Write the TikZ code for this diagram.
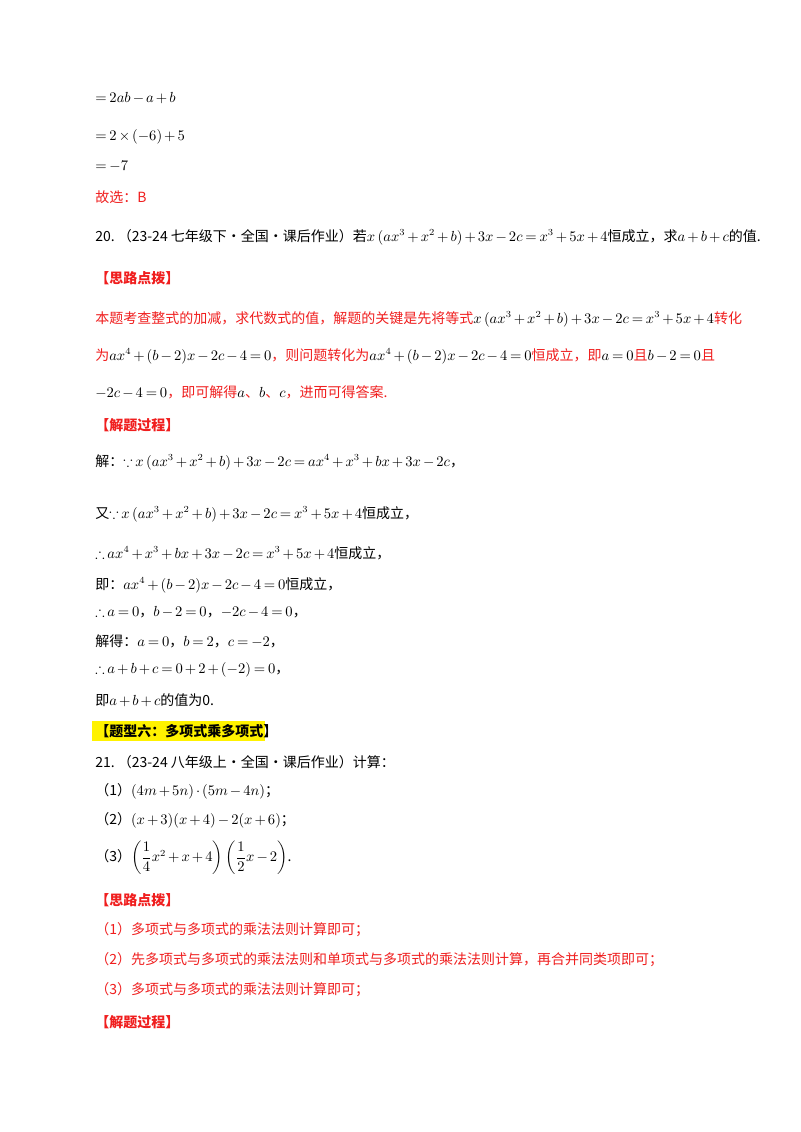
\documentclass[tikz,border=0pt]{standalone}
\usepackage{fontspec}
\usepackage{amsmath,amssymb}
\setmainfont{Noto Sans CJK SC}
\definecolor{rd}{RGB}{240,30,30}
\medmuskip=2.5mu plus 1mu minus 1mu
\thickmuskip=3.5mu plus 1mu
\begin{document}
\begin{tikzpicture}[x=0.75pt,y=-0.75pt,
 ln/.style={anchor=west,inner sep=0pt,font=\fontsize{10.5}{12}\selectfont},
 rl/.style={ln,text=rd},
 hd/.style={ln,text=rd,font=\fontsize{10.5}{12}\selectfont\bfseries}]
\useasboundingbox[fill=white] (0,0) rectangle (800,1132);
\node[ln] (l1) at (95,98) {$=2ab-a+b$};
\node[ln] (l2) at (95,137) {$=2\times(-6)+5$};
\node[ln] (l3) at (95,166) {$=-7$};
\node[rl] (l4) at (95,197) {故选：B};
\node[ln] (q20) at (95,237) {20.\ （23-24 七年级下·全国·课后作业）若$x\left(ax^3+x^2+b\right)+3x-2c=x^3+5x+4$恒成立，求$a+b+c$的值.};
\node[hd] (h1) at (95,278) {【思路点拨】};
\node[rl] (r1) at (95,319) {本题考查整式的加减，求代数式的值，解题的关键是先将等式\textcolor{black}{$x\left(ax^3+x^2+b\right)+3x-2c=x^3+5x+4$}转化};
\node[rl] (r2) at (95,356) {为\textcolor{black}{$ax^4+(b-2)x-2c-4=0$}，则问题转化为\textcolor{black}{$ax^4+(b-2)x-2c-4=0$}恒成立，即\textcolor{black}{$a=0$}且\textcolor{black}{$b-2=0$}且};
\node[rl] (r3) at (95,392) {\textcolor{black}{$-2c-4=0$}，即可解得\textcolor{black}{$a$}、\textcolor{black}{$b$}、\textcolor{black}{$c$}，进而可得答案.};
\node[hd] (h2) at (95,425) {【解题过程】};
\node[ln] (s1) at (95,462) {解：$\because x\left(ax^3+x^2+b\right)+3x-2c=ax^4+x^3+bx+3x-2c$，};
\node[ln] (s2) at (95,514) {又$\because x\left(ax^3+x^2+b\right)+3x-2c=x^3+5x+4$恒成立，};
\node[ln] (s3) at (95,553) {$\therefore ax^4+x^3+bx+3x-2c=x^3+5x+4$恒成立，};
\node[ln] (s4) at (95,585) {即：$ax^4+(b-2)x-2c-4=0$恒成立，};
\node[ln] (s5) at (95,612) {$\therefore a=0$，$b-2=0$，$-2c-4=0$，};
\node[ln] (s6) at (95,641) {解得：$a=0$，$b=2$，$c=-2$，};
\node[ln] (s7) at (95,670) {$\therefore a+b+c=0+2+(-2)=0$，};
\node[ln] (s8) at (95,700) {即$a+b+c$的值为0.};
\fill[yellow] (92,721) rectangle (265,741);
\node[ln,font=\fontsize{10.5}{12}\selectfont\bfseries] (t6) at (95,731) {【题型六：多项式乘多项式】};
\node[ln] (q21) at (95,762) {21.\ （23-24 八年级上·全国·课后作业）计算：};
\node[ln] (p1) at (95,791) {（1）$(4m+5n)\cdot(5m-4n)$；};
\node[ln] (p2) at (95,820) {（2）$(x+3)(x+4)-2(x+6)$；};
\node[ln] (p3) at (95,858) {（3）$\left(\dfrac14x^2+x+4\right)\left(\dfrac12x-2\right)$.};
\node[hd] (h3) at (95,900) {【思路点拨】};
\node[rl] (c1) at (95,930) {（1）多项式与多项式的乘法法则计算即可；};
\node[rl] (c2) at (95,960) {（2）先多项式与多项式的乘法法则和单项式与多项式的乘法法则计算，再合并同类项即可；};
\node[rl] (c3) at (95,990) {（3）多项式与多项式的乘法法则计算即可；};
\node[hd] (h4) at (95,1022) {【解题过程】};
\end{tikzpicture}
\end{document}
